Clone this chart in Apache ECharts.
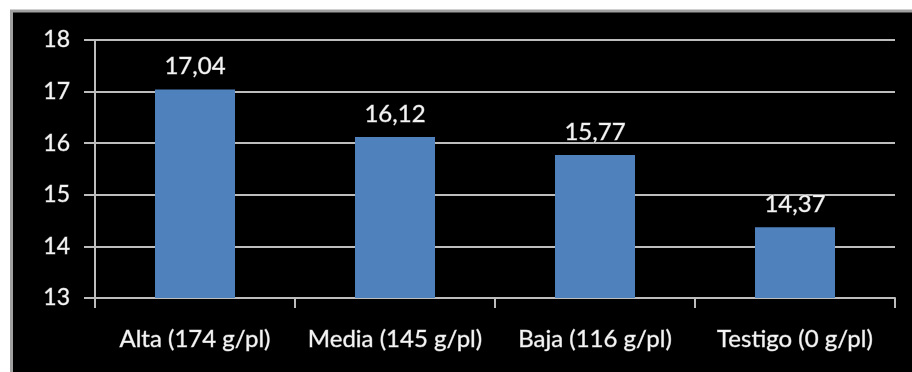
<!DOCTYPE html>
<html>
<head>
<meta charset="utf-8">
<script src="https://cdn.jsdelivr.net/npm/echarts@6/dist/echarts.min.js"></script>
<style>
  html, body { margin: 0; padding: 0; background: #ffffff; }
  #chart { width: 912px; height: 372px; }
</style>
</head>
<body>
<div id="chart"></div>
<script>
// Doses and the measured values for each treatment
var categories = ['Alta (174 g/pl)', 'Media (145 g/pl)', 'Baja (116 g/pl)', 'Testigo (0 g/pl)'];
var values = [17.04, 16.12, 15.77, 14.37];
var yTicks = [13, 14, 15, 16, 17, 18];

var FONT = 'Lato';
var textStyle = {
  color: '#f4f4f4',
  fontFamily: FONT,
  textBorderColor: '#777777',
  textBorderWidth: 0.8
};

var chart = echarts.init(document.getElementById('chart'), null, { renderer: 'canvas' });

chart.setOption({
  backgroundColor: '#ffffff',
  animation: false,
  graphic: [{
    type: 'rect',
    z: -10,
    silent: true,
    shape: { x: 11.5, y: 11, width: 920, height: 380 },
    style: { fill: '#000000', stroke: '#a0a0a0', lineWidth: 3 }
  }],
  grid: { left: 95, right: 17, top: 40, bottom: 74 },
  xAxis: {
    type: 'category',
    data: categories,
    axisLine: { lineStyle: { color: '#bdbdbd', width: 2 } },
    axisTick: { show: true, interval: 0, length: 10, alignWithLabel: false, lineStyle: { color: '#bdbdbd', width: 2 } },
    axisLabel: Object.assign({ interval: 0, hideOverlap: false, fontSize: 24, margin: 29 }, textStyle)
  },
  yAxis: {
    type: 'value',
    min: yTicks[0],
    max: yTicks[yTicks.length - 1],
    interval: 1,
    axisLine: { show: true, lineStyle: { color: '#bdbdbd', width: 2 } },
    axisTick: { show: true, length: 11, lineStyle: { color: '#bdbdbd', width: 2 } },
    splitLine: { show: true, lineStyle: { color: '#bdbdbd', width: 2 } },
    axisLabel: Object.assign({ fontSize: 23, margin: 25 }, textStyle)
  },
  series: [{
    type: 'bar',
    data: values,
    barWidth: '40%',
    itemStyle: { color: '#4f81bd' },
    label: Object.assign({
      show: true,
      position: 'top',
      distance: 11,
      fontSize: 24,
      formatter: function (p) { return p.value.toFixed(2).replace('.', ','); }
    }, textStyle)
  }]
});
</script>
</body>
</html>
